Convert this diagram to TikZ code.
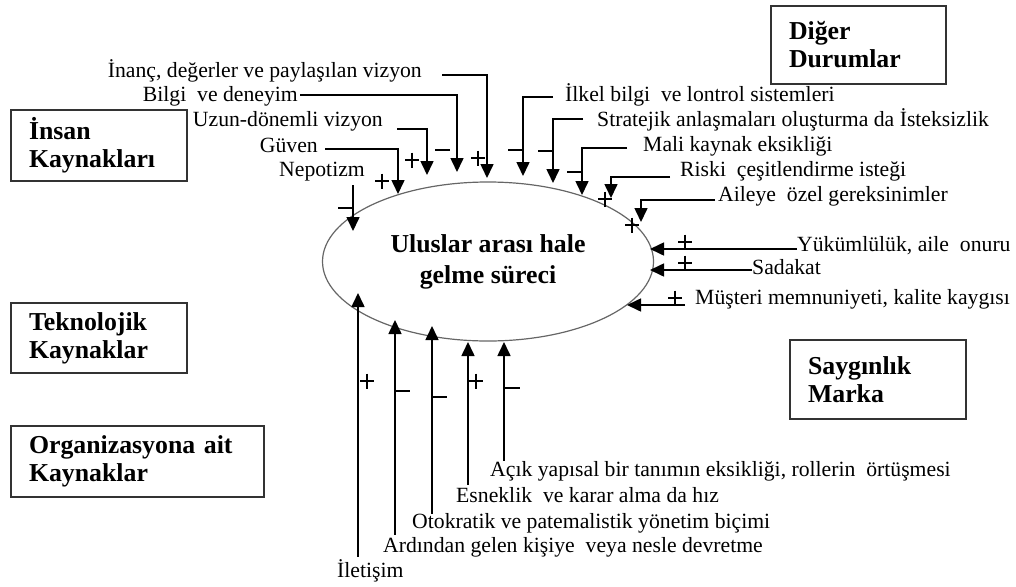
\documentclass[tikz,border=0pt]{standalone}
\usepackage{fontspec}
\setmainfont{Liberation Serif}
\usetikzlibrary{arrows.meta,shapes.geometric}
\newcommand\pmark[2]{\draw[sign] (#1,#2) ++(-7,0) -- ++(14,0) (#1,#2) ++(0,-7.5) -- ++(0,15);}
\newcommand\mmark[3]{\draw[sign] (#1,#3) -- (#2,#3);}
\begin{document}
\begin{tikzpicture}[x=1pt,y=-1pt,
  lab/.style={inner sep=0pt, font=\fontsize{21.7}{25}\selectfont, text height=14pt, text depth=4.5pt},
  box/.style={draw=black!80, line width=1.4pt, inner xsep=18pt, inner ysep=0pt, align=left,
              font=\fontsize{25.8}{28}\selectfont\bfseries},
  arr/.style={line width=1.6pt, -{Triangle[width=13pt,length=14pt]}},
  sign/.style={line width=1.3pt},
]
\useasboundingbox (0,0) rectangle (1016,586);

% boxes
\node[box, text width=140pt, minimum width=176pt, minimum height=71pt] (hr) at (99,145.5) {İnsan\\Kaynakları};
\node[box, text width=140pt, minimum width=176pt, minimum height=70pt] (tech) at (99,338) {Teknolojik\\Kaynaklar};
\node[box, text width=217pt, minimum width=253pt, minimum height=71pt] (org) at (137.5,461.5) {Organizasyona ait\\Kaynaklar};
\node[box, text width=139pt, minimum width=175pt, minimum height=78pt] (other) at (858.5,45) {Diğer\\Durumlar};
\node[box, text width=140pt, minimum width=176pt, minimum height=79pt] (rep) at (878,379.5) {Saygınlık\\Marka};

% central process
\node[ellipse, draw=black!60, line width=1.2pt, minimum width=331pt, minimum height=159pt, inner sep=0pt,
      align=center, font=\fontsize{25.8}{31}\selectfont\bfseries] (proc) at (488,261.5) {Uluslar arası hale\\gelme süreci};

% labels top-left
\node[lab, anchor=east] (ina) at (422,73) {İnanç, değerler ve paylaşılan vizyon};
\node[lab, anchor=east] (bil) at (298,97) {Bilgi\ \ ve deneyim};
\node[lab, anchor=east] (uzu) at (383,122) {Uzun-dönemli vizyon};
\node[lab, anchor=east] (guv) at (318,148) {Güven};
\node[lab, anchor=east] (nep) at (365,172) {Nepotizm};
% labels top-right
\node[lab, anchor=west] (ilk) at (565,97) {İlkel bilgi\ \ ve lontrol sistemleri};
\node[lab, anchor=west] (str) at (597,122) {Stratejik anlaşmaları oluşturma da İsteksizlik};
\node[lab, anchor=west] (mal) at (643,147) {Mali kaynak eksikliği};
\node[lab, anchor=west] (ris) at (680,172) {Riski\ \ çeşitlendirme isteği};
\node[lab, anchor=west] (ail) at (718,197) {Aileye\ \ özel gereksinimler};
% labels right
\node[lab, anchor=west] (yuk) at (797,247) {Yükümlülük, aile\ \ onuru};
\node[lab, anchor=west] (sad) at (752,270) {Sadakat};
\node[lab, anchor=west] (mus) at (695,300) {Müşteri memnuniyeti, kalite kaygısı};
% labels bottom
\node[lab, anchor=west] (acik) at (490,472) {Açık yapısal bir tanımın eksikliği, rollerin\ \ örtüşmesi};
\node[lab, anchor=west] (esn) at (456,498) {Esneklik\ \ ve karar alma da hız};
\node[lab, anchor=west] (oto) at (412,524) {Otokratik ve patemalistik yönetim biçimi};
\node[lab, anchor=west] (ard) at (383,548) {Ardından gelen kişiye\ \ veya nesle devretme};
\node[lab, anchor=west] (ile) at (337,573) {İletişim};

% arrow tips on the process
\coordinate (t-ina) at (487,178);
\coordinate (t-bil) at (457,172);
\coordinate (t-uzu) at (427,175);
\coordinate (t-guv) at (398,194);
\coordinate (t-nep) at (353,231);
\coordinate (t-ilk) at (523,176);
\coordinate (t-str) at (553,183);
\coordinate (t-mal) at (582,195);
\coordinate (t-ris) at (611,198);
\coordinate (t-ail) at (641,222);
\coordinate (t-yuk) at (650,249);
\coordinate (t-sad) at (650,270);
\coordinate (t-mus) at (627,305);
\coordinate (t-ile) at (358,293);
\coordinate (t-ard) at (395,320);
\coordinate (t-oto) at (432,326);
\coordinate (t-esn) at (468,342);
\coordinate (t-acik) at (504,342);

% connectors
\draw[arr] ([xshift=20pt,yshift=-2pt]ina.east) -| (t-ina);
\draw[arr] ([xshift=2pt,yshift=2pt]bil.east) -| (t-bil);
\draw[arr] ([xshift=14pt,yshift=-7pt]uzu.east) -| (t-uzu);
\draw[arr] ([xshift=7pt,yshift=-1pt]guv.east) -| (t-guv);
\draw[arr] ([xshift=-12pt,yshift=-4pt]nep.south east) -- (t-nep);
\draw[arr] ([xshift=-12pt]ilk.west) -| (t-ilk);
\draw[arr] ([xshift=-14pt,yshift=3pt]str.west) -| (t-str);
\draw[arr] ([xshift=-16pt,yshift=-1pt]mal.west) -| (t-mal);
\draw[arr] ([xshift=-10pt,yshift=-5pt]ris.west) -| (t-ris);
\draw[arr] ([xshift=-3pt,yshift=-3pt]ail.west) -| (t-ail);
\draw[arr] ([yshift=-2pt]yuk.west) -- (t-yuk);
\draw[arr] (sad.west) -- (t-sad);
\draw[arr] ([xshift=-10pt,yshift=-5pt]mus.west) -- (t-mus);
\draw[arr] ([xshift=21pt,yshift=7pt]ile.north west) -- (t-ile);
\draw[arr] ([xshift=12pt,yshift=3.75pt]ard.north west) -- (t-ard);
\draw[arr] ([xshift=20pt,yshift=1pt]oto.north west) -- (t-oto);
\draw[arr] ([xshift=12pt,yshift=3.75pt]esn.north west) -- (t-esn);
\draw[arr] ([xshift=14pt,yshift=1.75pt]acik.north west) -- (t-acik);

% signs
\mmark{338}{353}{208}
\pmark{382}{181}
\pmark{412}{160}
\mmark{435}{450}{150}
\pmark{478}{158}
\mmark{508}{523}{150}
\mmark{538}{553}{151}
\mmark{567}{582}{172}
\pmark{605}{199}
\pmark{632}{225}
\pmark{685}{242}
\pmark{685}{263}
\pmark{675}{298}
\pmark{367}{381}
\mmark{395}{410}{391}
\mmark{432}{447}{397}
\pmark{476}{381}
\mmark{505}{520}{388}
\end{tikzpicture}
\end{document}
